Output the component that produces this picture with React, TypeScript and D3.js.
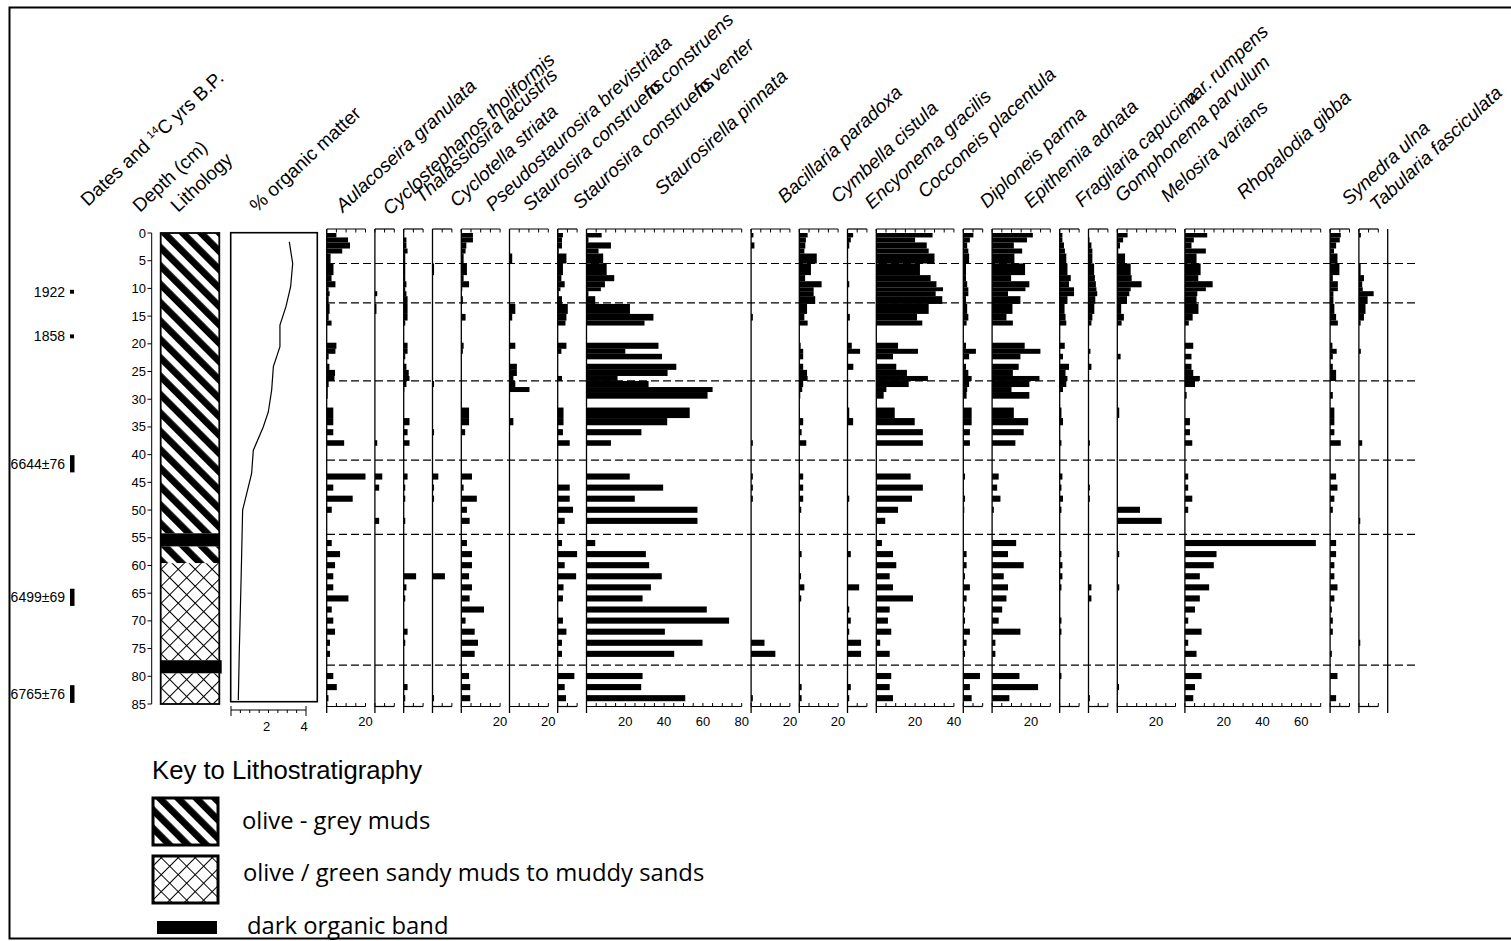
import React from 'react';
import * as d3 from 'd3';

// sample intervals (cm), top and base of each counted level
const sampleTop = [0, 0.8, 1.7, 2.8, 3.7, 5.5, 7.6, 8.7, 9.8, 10.5, 11.4, 12.8, 14.6, 15.8, 19.8, 20.9, 21.8, 23.6, 24.7, 25.8, 26.7, 27.8, 28.7, 31.5, 33.4, 35.4, 37.4,
  43.4, 45.4, 47.4, 49.4, 51.4, 55.4, 57.4, 59.4, 61.4, 63.4, 65.4, 67.4, 69.4, 71.4, 73.4, 75.4, 79.4, 81.4, 83.4];
const sampleBase = [0.8, 1.7, 2.8, 3.7, 5.5, 7.6, 8.7, 9.8, 10.5, 11.4, 12.8, 14.6, 15.8, 16.7, 20.9, 21.8, 22.8, 24.7, 25.8, 26.7, 27.8, 28.7, 29.9, 33.4, 34.7, 36.5, 38.4,
  44.5, 46.5, 48.5, 50.5, 52.5, 56.5, 58.5, 60.5, 62.5, 64.5, 66.5, 68.5, 70.5, 72.5, 74.5, 76.5, 80.5, 82.5, 84.5];

const taxa = [
  'Aulacoseira granulata', 'Cyclostephanos tholiformis', 'Thalassiosira lacustris', 'Cyclotella striata',
  'Pseudostaurosira brevistriata', 'Staurosira construens fo. construens', 'Staurosira construens fo. venter',
  'Staurosirella pinnata', 'Bacillaria paradoxa', 'Cymbella cistula', 'Encyonema gracilis', 'Cocconeis placentula',
  'Diploneis parma', 'Epithemia adnata', 'Fragilaria capucina var. rumpens', 'Gomphonema parvulum',
  'Melosira varians', 'Rhopalodia gibba', 'Synedra ulna', 'Tabularia fasciculata',
];
const taxonMax = [20, 10, 10, 10, 20, 20, 10, 80, 20, 20, 10, 40, 10, 30, 10, 10, 30, 70, 10, 10];

// percentages, one per sample level
const aulacoseira = [5, 11, 12, 8, 2, 3.5, 2.5, 4.5, 1, 1.5, 1, 1.5, 1, 2.5, 5, 4.5, 1, 1.4, 4.3, 4, 1, 0.5, 0.5, 3.4, 3.4, 3.4, 9,
  20, 3.4, 13.4, 2.6, 0, 2.6, 6.9, 4.3, 3.4, 3.4, 11.2, 2.6, 3.4, 4.3, 1.7, 1.7, 3.4, 5.2, 0.9];
const cyclostephanos = [0, 0, 0, 0, 0, 0, 0, 0, 0, 1.2, 0, 0.8, 0, 0, 0, 0, 0, 0, 0, 0, 0, 0, 0, 0, 0, 0, 1.2,
  3.8, 2.2, 0, 0, 2.2, 0, 0, 0, 0, 0, 0, 0, 0, 0, 0, 0, 0, 0, 0];
const thalassiosira = [0, 1.4, 1.4, 2, 0.8, 0.8, 0.8, 1.4, 0.8, 1.4, 2, 2, 2, 0.8, 2, 2, 0.8, 1.4, 2.6, 3, 1.4, 0.3, 0, 0, 3, 2, 3,
  2, 0.8, 0.8, 0, 0.8, 0, 0, 0, 6.4, 1.4, 0.8, 0, 0, 2, 0.8, 0, 0, 2, 0.8];
const cyclotella = [0, 0, 0, 0, 0, 0.8, 0, 0, 0, 0, 0, 0, 0, 0, 0, 0, 0, 0, 0, 0, 0.8, 0, 0, 0, 0, 0.8, 0,
  3, 0.8, 0.8, 0, 0, 0, 0, 0, 6.4, 0, 0, 0, 0, 0, 0, 0, 0, 0, 0.8];
const pseudostaurosira = [6, 6, 2.6, 2.2, 1.2, 2.9, 1.2, 4, 0.5, 0, 0.8, 0, 2.2, 0, 1.2, 0.8, 0, 0, 0, 0, 0, 0, 0, 4, 4, 2, 0,
  5.5, 1.2, 8, 2.9, 4.3, 2.9, 5.5, 5.5, 4, 5.5, 4.3, 11.7, 2.2, 6.9, 8.6, 6.9, 4, 4.6, 4.6];
const construens = [0, 0, 0, 0, 1.4, 0, 0, 0, 0, 0, 0, 3, 1.4, 0, 3, 0, 0, 3.8, 3.8, 2, 3, 10.3, 0, 0, 2, 0, 0,
  0, 0, 0, 0, 0, 0, 0, 0, 0, 0, 0, 0, 0, 0, 0, 0, 0, 0, 0];
const venter = [2.7, 2.2, 2.2, 0.5, 4.5, 2.7, 1.9, 3.6, 1.4, 0.5, 2.2, 5.2, 4.5, 4, 4.5, 1.9, 0, 0, 0, 2.2, 0, 0, 0, 3, 3, 2.7, 6.2,
  0, 6.2, 6.2, 7.9, 3.6, 2.2, 10, 3.6, 9.5, 3, 2.7, 0, 2.7, 4.5, 2.2, 2.2, 8.6, 3.6, 4.3];
const pinnata = [7.8, 1, 12.6, 6.2, 8.6, 10.4, 14.3, 9.5, 7.4, 1, 4.5, 22.4, 34.5, 29.9, 37.1, 20, 38.9, 46.3, 41.8, 16, 32, 65, 62.4, 53.2, 41.6, 28.3, 12.6,
  22.3, 39.5, 24.9, 57.2, 57.2, 4.5, 30.6, 32.3, 38.8, 33.2, 28.9, 62, 73.5, 40.4, 59.8, 45.2, 28.9, 28.2, 50.9];
const bacillaria = [1.2, 0, 1.7, 0, 0, 0, 0, 0, 0, 0, 0, 0, 0.9, 0, 0, 0, 0, 0, 0, 0, 0, 0, 0, 0, 0, 0, 0.9,
  0.9, 0.9, 0.9, 0, 0, 0, 0, 0, 0, 0, 0, 0, 0, 0, 6.9, 12.5, 0, 0, 0.9];
const cymbella = [4.3, 3.4, 3.1, 2.6, 9, 6, 3, 11.5, 7.4, 7.4, 8.2, 4, 2.6, 4.3, 0.7, 2, 2, 2, 4, 4.3, 2, 1.5, 0.5, 0.3, 2, 1.2, 3.6,
  2, 2, 2, 1, 0, 0, 1.2, 0, 0.9, 2.6, 1, 0, 0, 0, 0, 0, 0, 1.2, 1.2];
const encyonema = [2.9, 1.7, 0.9, 0, 0, 0, 0, 0.9, 0, 0, 0, 0, 1.2, 0, 2.2, 6.5, 0, 3, 0, 0, 0, 0, 0, 0.9, 2.9, 0, 0,
  0, 0, 0.9, 0, 0, 0, 1.7, 0, 0, 6, 0, 0.9, 1.7, 0.9, 7, 7, 0, 1.7, 0.9];
const cocconeis = [29, 20, 26, 27, 30, 22.5, 28, 31, 34.4, 30.6, 34, 27, 21, 23.7, 11.2, 21.5, 8.6, 10.3, 15.8, 26.6, 16.7, 5.2, 3.8, 9.5, 19.8, 24, 24,
  17.7, 24, 18.4, 11.2, 4.6, 2.9, 8.6, 10.3, 6.9, 8.6, 18.9, 6.9, 6, 7.7, 2, 6.9, 7.7, 6.9, 8.6];
const diploneis = [5.2, 3.4, 2, 2.6, 3, 1.4, 1.4, 2, 2.6, 2.6, 1.4, 2, 2.6, 1.7, 1.4, 6.5, 3, 1.4, 2.6, 4.3, 3, 2, 1.7, 4.3, 4.3, 3.4, 3.4,
  0.9, 0, 0.9, 0.5, 0, 0, 1.7, 1.7, 0.9, 3.4, 1.7, 0.9, 0.9, 3.4, 1.7, 0.9, 8.6, 3.4, 4.3];
const epithemia = [21, 18, 11.2, 15.5, 11.5, 17, 9.8, 19.2, 17.2, 8.2, 14.6, 10.5, 7.4, 10.7, 16.8, 24.9, 14.6, 13.7, 10.7, 24.4, 19.2, 10, 19.2, 11.2, 18.6, 16.3, 12,
  3.4, 2.6, 4.3, 0.9, 0, 12.4, 8.2, 16.3, 6, 8.2, 7.4, 5.2, 3.4, 14.6, 1.7, 1.7, 14.1, 23.7, 8.9];
const fragilaria = [1.4, 1.4, 2.2, 2.7, 3.4, 4, 5.7, 4.8, 7.4, 7.4, 4, 2.5, 3, 3.4, 2.6, 0, 1.7, 4.8, 3, 4, 3.4, 1.7, 0, 0.9, 1.7, 0, 0.9,
  1.4, 0.9, 1.7, 0.9, 0, 0, 0.9, 1.4, 1.4, 0.9, 0, 0, 0.9, 0.9, 0, 0, 0.9, 0, 0];
const gomphonema = [0, 0.5, 1.5, 2, 2, 2.9, 3.3, 3.8, 4.1, 4.5, 3.5, 3, 2, 1.5, 0, 1, 0, 1.5, 0, 0, 0, 0, 0, 0, 0, 0, 0.7,
  0, 0.7, 0.7, 0, 0, 0, 0, 0, 0, 1.5, 1.5, 0, 0, 0, 0, 0, 0, 0, 0.7];
const melosira = [5.3, 3, 1.4, 0.5, 4, 6.9, 7.4, 12.5, 6.9, 6.2, 5, 2, 3.4, 2.2, 0, 0, 1.7, 0, 0, 0, 0, 0, 0, 1, 0, 0, 0,
  0, 0, 0, 11.7, 22.9, 0, 1, 0, 0, 1, 0, 0, 0, 0, 0, 0, 0, 0.9, 0];
const rhopalodia = [11.5, 4.6, 3.4, 10.8, 6, 8.1, 6.9, 14.3, 10.8, 6.4, 6, 7, 4, 2, 4.3, 0, 3.4, 3.4, 4.3, 7.7, 5.2, 0, 0.9, 0, 2.6, 2.6, 3.8,
  1.7, 1.7, 3.8, 1.7, 0, 67.5, 16.3, 14.9, 7.7, 12.5, 7.7, 5.2, 1.7, 8.6, 1.7, 6, 8.6, 5.2, 4.3];
const synedra = [5.5, 5, 3.1, 2, 3.8, 4.8, 1.4, 4, 4, 1.7, 1.7, 2.2, 3.1, 4, 1.2, 3.4, 1.4, 1.4, 3.1, 3.1, 0, 0, 1.4, 2.2, 2.2, 2.2, 5.5,
  3.1, 3.8, 2.2, 1.4, 0, 3.1, 3.1, 2.2, 2.2, 3.8, 2.2, 0.9, 1.4, 1.4, 0, 0.9, 3.8, 0, 3.1];
const tabularia = [1, 0, 0, 0, 0, 0.9, 2.6, 1.7, 2, 7.6, 4.5, 3.4, 2.6, 0.9, 0, 1, 0, 0, 0, 0, 0, 0, 0, 0, 0, 0, 1.7,
  0, 0, 0, 0, 0.7, 0, 0, 0, 0, 0, 0, 0, 0, 0, 0.7, 0, 0, 0, 0];

const taxonValues = [aulacoseira, cyclostephanos, thalassiosira, cyclotella, pseudostaurosira, construens, venter,
  pinnata, bacillaria, cymbella, encyonema, cocconeis, diploneis, epithemia, fragilaria, gomphonema,
  melosira, rhopalodia, synedra, tabularia];

// % organic matter (loss on ignition)
const orgDepth = [1.6, 5.5, 9.7, 13.3, 16.6, 20.5, 24.1, 28.3, 32.3, 35, 39.2, 43.4, 47, 50, 57.8, 65, 75.9, 84.3];
const orgValue = [3.11, 3.29, 3.18, 2.93, 2.61, 2.61, 2.26, 2.17, 1.99, 1.72, 1.19, 1.1, 0.84, 0.62, 0.57, 0.52, 0.44, 0.39];

// lithology units
const lithTop = [0, 54.2, 56.6, 59.6, 77.1, 79.5];
const lithBase = [54.2, 56.6, 59.6, 77.1, 79.5, 85];
const lithType = ['mud', 'band', 'mud', 'sand', 'band', 'sand'];

// dates
const dateLabels = ['1922', '1858', '6644±76', '6499±69', '6765±76'];
const dateTop = [10.25, 18.3, 40.1, 64.2, 81.6];
const dateBase = [10.95, 19.0, 43.2, 67.3, 84.8];

// zone boundaries
const zoneDepths = [5.5, 12.6, 26.7, 41.0, 54.4, 78.0];

const depthTicks = [0, 5, 10, 15, 20, 25, 30, 35, 40, 45, 50, 55, 60, 65, 70, 75, 80, 85];

// header label anchors (layout)
const headerAnchors: [number, number][] = [
  [343, 213], [390, 216], [422, 204], [457, 208], [493, 212], [530, 212], [580, 210], [662, 196],
  [785, 204], [838, 204], [872, 210], [925, 199], [987, 209], [1031, 209], [1082, 208], [1122, 203],
  [1168, 203], [1244, 200], [1349, 206], [1377, 212],
];

const FONT = 'Liberation Sans, Arial, Helvetica, sans-serif';
const ANGLE = -43;
const HEAD = 19;

// the infraspecific rank in the original is set tight, overlapping the species name
function TaxonName({ name }: { name: string }) {
  const m = name.match(/^(.*?) (fo\.|var\.) (.*)$/);
  if (!m) return <>{name}</>;
  const back = m[2] === 'fo.' ? -20 : -12;
  return (
    <>
      {m[1]}
      <tspan dx={back}>{m[2]}</tspan>
      <tspan dx={m[2] === 'fo.' ? 1 : 3}>{m[3]}</tspan>
    </>
  );
}

export default function App() {
  const y = d3.scaleLinear().domain([0, 85]).range([233, 704]);
  const unit = 1.94;
  const gap = 9.4;
  let cursor = 326.7;
  const panels = taxa.map((name, i) => {
    const x0 = cursor;
    const w = taxonMax[i] * unit;
    cursor += w + gap;
    return { name, i, max: taxonMax[i], x: d3.scaleLinear().domain([0, taxonMax[i]]).range([x0, x0 + w]) };
  });
  const lastLine = cursor;
  const topScaleY = 229;
  const botScaleY = 706.5;

  const litX0 = 160.7, litX1 = 219.3;
  const orgX = d3.scaleLinear().domain([0, 4]).range([231, 306]);
  const orgLine = d3.line<number>().x((d) => orgX(orgValue[d])).y((d) => y(orgDepth[d]));

  return (
    <div style={{ position: 'absolute', left: 0, top: 0 }}>
      <svg width={1511} height={941} style={{ display: 'block', background: '#fff' }} fontFamily={FONT}>
        <defs>
          <pattern id="hatch" patternUnits="userSpaceOnUse" width={13} height={13} patternTransform="rotate(-45)">
            <rect width={13} height={13} fill="#fff" />
            <rect width={6.8} height={13} fill="#000" />
          </pattern>
          <pattern id="cross" patternUnits="userSpaceOnUse" width={12} height={12} patternTransform="rotate(45)">
            <rect width={12} height={12} fill="#fff" />
            <path d="M0,0.5H12M0.5,0V12" stroke="#000" strokeWidth={1} />
          </pattern>
        </defs>

        {/* frame */}
        <rect x={9.5} y={7.5} width={1520} height={931} fill="none" stroke="#000" strokeWidth={2} />

        {/* header labels */}
        <text transform={`translate(88,207) rotate(${ANGLE})`} fontSize={HEAD}>
          Dates and <tspan fontSize={11} dy={-7}>14</tspan><tspan dy={7}>C yrs B.P.</tspan>
        </text>
        <text transform={`translate(140,213) rotate(${ANGLE})`} fontSize={HEAD}>Depth (cm)</text>
        <text transform={`translate(178,213) rotate(${ANGLE})`} fontSize={HEAD}>Lithology</text>
        <text transform={`translate(257,213) rotate(${ANGLE})`} fontSize={HEAD}>% organic matter</text>
        {panels.map((p) => (
          <text key={'h' + p.i} transform={`translate(${headerAnchors[p.i][0]},${headerAnchors[p.i][1]}) rotate(${ANGLE})`}
            fontSize={HEAD} fontStyle="italic"><TaxonName name={p.name} /></text>
        ))}

        {/* dates */}
        {dateLabels.map((d, i) => {
          const mid = (y(dateTop[i]) + y(dateBase[i])) / 2;
          return (
            <g key={'d' + i}>
              <text x={65} y={mid} fontSize={14} textAnchor="end" dominantBaseline="central">{d}</text>
              <rect x={70} y={y(dateTop[i])} width={i < 2 ? 4 : 4.5} height={y(dateBase[i]) - y(dateTop[i])} fill="#000" />
            </g>
          );
        })}

        {/* depth axis */}
        <line x1={151.7} x2={151.7} y1={y(0)} y2={y(85)} stroke="#000" strokeWidth={1} />
        {depthTicks.map((t) => (
          <g key={'t' + t}>
            <line x1={147.5} x2={151.7} y1={y(t)} y2={y(t)} stroke="#000" strokeWidth={1} />
            <text x={146} y={y(t)} fontSize={13} textAnchor="end" dominantBaseline="central">{t}</text>
          </g>
        ))}

        {/* lithology */}
        {lithType.map((t, i) => (
          <rect key={'l' + i} x={litX0} y={y(lithTop[i])} width={(t === 'band' && i === 4 ? litX1 + 2.4 : litX1) - litX0}
            height={y(lithBase[i]) - y(lithTop[i])}
            fill={t === 'mud' ? 'url(#hatch)' : t === 'sand' ? 'url(#cross)' : '#000'} />
        ))}
        <rect x={litX0} y={y(0)} width={litX1 - litX0} height={y(85) - y(0)} fill="none" stroke="#000" strokeWidth={1.8} />

        {/* organic matter */}
        <rect x={230.7} y={232.7} width={86.6} height={469} fill="none" stroke="#000" strokeWidth={1.6} />
        <path d={orgLine(orgDepth.map((_, i) => i)) || ''} fill="none" stroke="#000" strokeWidth={1.2} />
        <line x1={orgX(0)} x2={orgX(4)} y1={710} y2={710} stroke="#000" strokeWidth={1} />
        {d3.range(0, 4.01, 0.5).map((t) => (
          <line key={'o' + t} x1={orgX(t)} x2={orgX(t)} y1={t === 0 || t === 4 ? 706 : 710} y2={t === 0 || t === 4 ? 716 : 713}
            stroke="#000" strokeWidth={1} />
        ))}
        {[2, 4].map((t) => (
          <text key={'ol' + t} x={orgX(t) - 2} y={731} fontSize={13} textAnchor="middle">{t}</text>
        ))}

        {/* taxa panels */}
        {panels.map((p) => {
          const vals = taxonValues[p.i];
          const x0 = p.x(0);
          const ticks = d3.range(0, p.max + 0.01, 5);
          return (
            <g key={'p' + p.i}>
              {vals.map((v, j) => v > 0 ? (
                <rect key={j} x={x0} y={y(sampleTop[j])} width={p.x(Math.min(v, p.max)) - x0}
                  height={y(sampleBase[j]) - y(sampleTop[j])} fill="#000" />
              ) : null)}
              <line x1={x0} x2={x0} y1={topScaleY} y2={713} stroke="#000" strokeWidth={1.3} />
              <line x1={x0} x2={p.x(p.max)} y1={topScaleY} y2={topScaleY} stroke="#000" strokeWidth={1.2} />
              <line x1={x0} x2={p.x(p.max)} y1={botScaleY} y2={botScaleY} stroke="#000" strokeWidth={1.2} />
              {ticks.map((t) => (
                <g key={'k' + t}>
                  <line x1={p.x(t)} x2={p.x(t)} y1={topScaleY} y2={topScaleY + 3.5} stroke="#000" strokeWidth={1} />
                  <line x1={p.x(t)} x2={p.x(t)} y1={botScaleY - 3.5} y2={botScaleY} stroke="#000" strokeWidth={1} />
                </g>
              ))}
              {ticks.filter((t) => t > 0 && t % 20 === 0).map((t) => (
                <text key={'b' + t} x={p.x(t)} y={726} fontSize={13} textAnchor="middle">{t}</text>
              ))}
            </g>
          );
        })}
        <line x1={lastLine} x2={lastLine} y1={topScaleY} y2={713} stroke="#000" strokeWidth={1.3} />

        {/* zone boundaries */}
        {zoneDepths.map((d) => (
          <line key={'z' + d} x1={327} x2={1418} y1={y(d)} y2={y(d)} stroke="#000" strokeWidth={1.2} strokeDasharray="8,4" />
        ))}

        {/* key */}
        <text x={152} y={779} fontSize={25} textLength={270} lengthAdjust="spacingAndGlyphs">Key to Lithostratigraphy</text>
        <rect x={153} y={798} width={65} height={47} fill="url(#hatch)" stroke="#000" strokeWidth={3} />
        <text x={242} y={829} fontSize={23.8} fontFamily="Open Sans, sans-serif">olive - grey muds</text>
        <rect x={153} y={856} width={65} height={47} fill="url(#cross)" stroke="#000" strokeWidth={3} />
        <text x={243} y={881} fontSize={23.8} fontFamily="Open Sans, sans-serif">olive / green sandy muds to muddy sands</text>
        <rect x={157} y={921} width={60} height={13} fill="#000" />
        <text x={247} y={934} fontSize={23.8} fontFamily="Open Sans, sans-serif">dark organic band</text>
      </svg>
    </div>
  );
}
